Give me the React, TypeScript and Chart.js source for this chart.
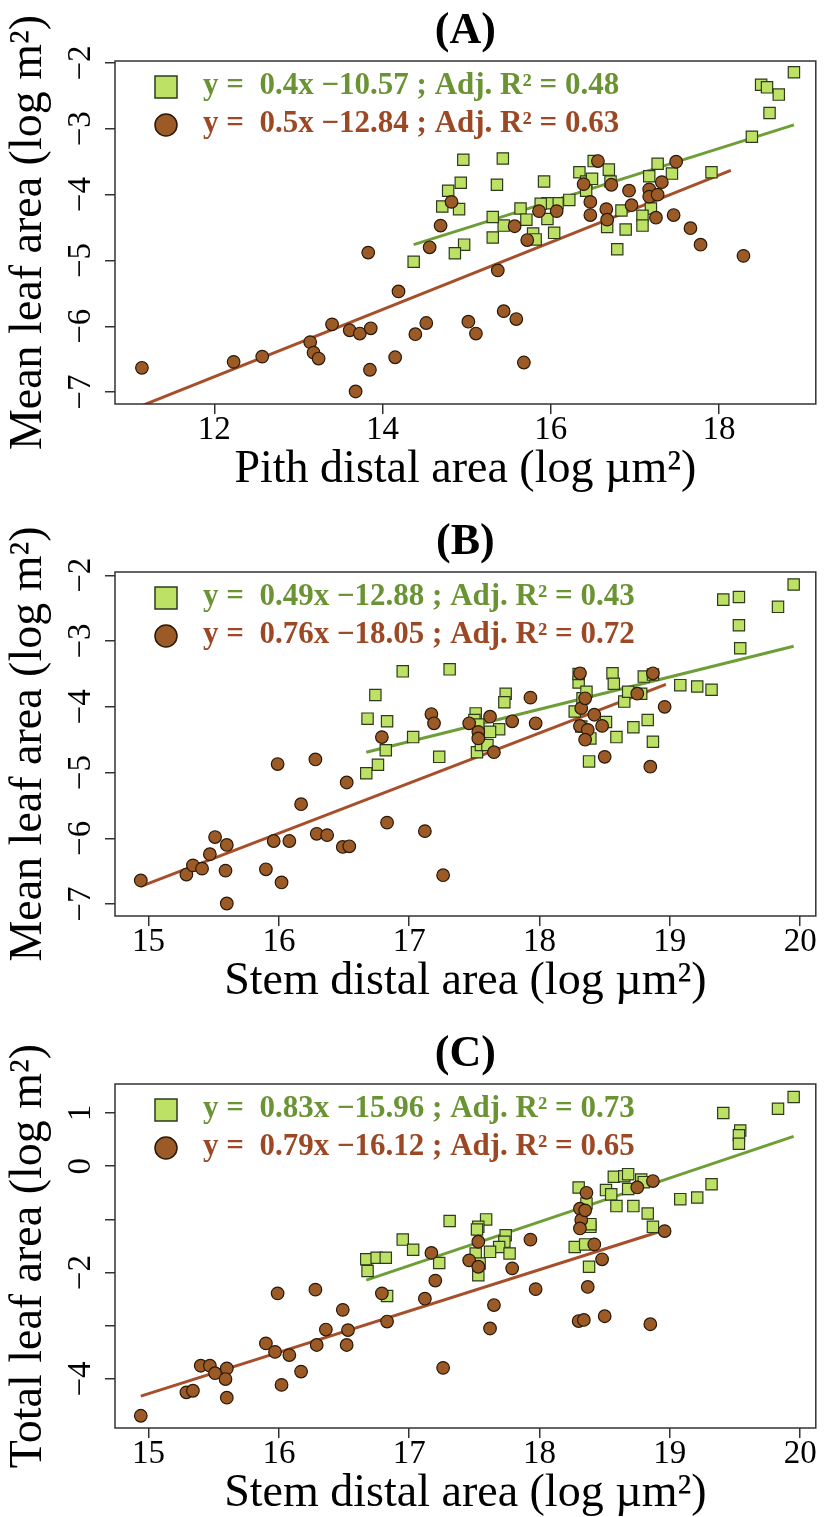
import React, { useEffect, useRef } from 'react';
import { Chart, registerables } from 'chart.js';
Chart.register(...registerables);

// ---------- Panel A: Pith distal area vs Mean leaf area ----------
const aSqX = [18.89, 18.5, 18.57, 18.71, 18.6, 18.39, 17.91, 17.44, 17.27, 17.17, 17.19, 17.09, 17.09, 16.89, 16.84, 16.79, 16.67, 16.69, 16.71, 16.51, 16.34, 16.42, 16.49, 16.42, 16.22, 16.08, 15.96, 15.88, 15.92, 15.96, 16.04, 15.64, 15.71, 15.79, 15.82, 15.44, 15.31, 15.31, 15.36, 15.43, 14.96, 14.93, 14.78, 14.71, 14.91, 14.97, 14.86, 14.37];
const aSqY = [-2.14, -2.33, -2.37, -2.48, -2.76, -3.12, -3.66, -3.68, -3.53, -3.72, -4.21, -4.32, -4.47, -4.53, -4.24, -4.83, -4.49, -3.62, -3.8, -3.49, -3.66, -3.8, -3.76, -3.94, -4.08, -4.13, -4.13, -4.14, -3.8, -4.37, -4.58, -4.21, -4.38, -4.59, -4.68, -4.47, -4.34, -4.65, -3.85, -3.45, -3.47, -3.82, -3.94, -4.18, -4.22, -4.76, -4.89, -5.02];
const aCiX = [11.14, 12.23, 12.57, 13.14, 13.18, 13.24, 13.4, 13.61, 13.73, 13.86, 13.68, 13.85, 13.83, 14.15, 14.19, 14.39, 14.52, 14.56, 14.69, 14.82, 15.02, 15.11, 15.37, 15.44, 15.59, 15.68, 15.57, 15.72, 15.86, 16.07, 16.39, 16.47, 16.47, 16.56, 16.66, 16.67, 16.72, 16.93, 16.96, 17.17, 17.17, 17.27, 17.32, 17.25, 17.49, 17.46, 17.66, 17.78, 18.29];
const aCiY = [-6.63, -6.54, -6.46, -6.24, -6.4, -6.49, -5.97, -6.06, -6.11, -6.03, -6.99, -6.66, -4.88, -6.47, -5.47, -6.12, -5.95, -4.8, -4.47, -4.11, -5.93, -6.11, -5.15, -5.77, -5.89, -6.55, -4.48, -4.69, -4.25, -4.25, -3.84, -4.11, -4.31, -3.49, -4.22, -4.38, -3.85, -3.94, -4.16, -3.92, -4.03, -4.0, -3.81, -4.35, -3.5, -4.31, -4.51, -4.76, -4.93];
const aSqLineX = [14.37, 18.89];
const aSqLineY = [-4.76, -2.94];
const aCiLineX = [11.13, 18.14];
const aCiLineY = [-7.21, -3.63];

// ---------- Panel B: Stem distal area vs Mean leaf area ----------
const bSqX = [19.95, 19.41, 19.53, 19.83, 19.53, 19.54, 19.08, 19.21, 19.32, 18.8, 18.87, 18.78, 18.83, 18.72, 18.87, 18.65, 18.68, 18.56, 18.57, 18.51, 18.59, 18.3, 18.3, 18.33, 18.36, 18.27, 18.39, 18.38, 18.32, 17.74, 17.73, 17.69, 17.62, 17.51, 17.5, 17.52, 17.55, 17.6, 17.31, 16.95, 17.23, 17.03, 16.83, 16.74, 16.68, 16.82, 16.76, 16.67, 17.53];
const bSqY = [-2.14, -2.37, -2.33, -2.48, -2.76, -3.11, -3.67, -3.69, -3.74, -3.54, -3.51, -3.8, -4.2, -4.31, -4.53, -3.92, -3.77, -3.49, -3.65, -4.23, -4.46, -3.63, -3.5, -3.87, -3.77, -4.07, -4.48, -4.83, -4.3, -3.8, -3.93, -4.34, -4.38, -4.1, -4.2, -4.69, -4.58, -4.58, -3.43, -3.46, -4.76, -4.46, -4.22, -3.82, -4.18, -4.66, -4.88, -5.01, -4.27];
const bCiX = [14.94, 15.29, 15.34, 15.41, 15.47, 15.51, 15.6, 15.59, 15.6, 15.9, 15.96, 15.99, 16.02, 16.08, 16.17, 16.28, 16.29, 16.37, 16.49, 16.54, 16.52, 16.79, 16.83, 17.12, 17.17, 17.19, 17.26, 17.46, 17.53, 17.53, 17.62, 17.65, 17.79, 17.93, 17.97, 18.31, 18.32, 18.35, 18.31, 18.37, 18.35, 18.42, 18.48, 18.5, 18.75, 18.87, 18.85, 18.96];
const bCiY = [-6.64, -6.55, -6.41, -6.46, -6.24, -5.98, -6.1, -6.49, -6.99, -6.47, -6.04, -4.87, -6.67, -6.04, -5.48, -4.8, -5.93, -5.95, -6.13, -6.12, -5.15, -4.46, -5.76, -5.89, -4.11, -4.25, -6.56, -4.25, -4.38, -4.48, -4.15, -4.69, -4.22, -3.86, -4.25, -3.49, -4.02, -3.87, -4.29, -4.35, -4.5, -4.12, -4.29, -4.76, -3.8, -3.49, -4.91, -4.0];
const bSqLineX = [16.67, 19.95];
const bSqLineY = [-4.69, -3.08];
const bCiLineX = [14.94, 18.97];
const bCiLineY = [-6.73, -3.66];

// ---------- Panel C: Stem distal area vs Total leaf area ----------
const cSqX = [19.95, 19.83, 19.41, 19.54, 19.53, 19.53, 19.32, 19.21, 19.08, 18.57, 18.65, 18.68, 18.78, 18.8, 18.68, 18.51, 18.55, 18.59, 18.72, 18.83, 18.87, 18.3, 18.36, 18.39, 18.39, 18.27, 18.35, 18.38, 17.59, 17.53, 17.52, 17.74, 17.73, 17.69, 17.62, 17.77, 17.51, 17.54, 17.53, 17.31, 17.23, 16.95, 17.03, 16.67, 16.68, 16.75, 16.82, 16.83];
const cSqY = [1.3, 1.08, 1.0, 0.67, 0.58, 0.42, -0.34, -0.59, -0.62, -0.2, -0.19, -0.15, -0.25, -0.3, -0.43, -0.45, -0.53, -0.75, -0.75, -0.89, -1.14, -0.4, -0.7, -1.14, -1.09, -1.52, -1.47, -1.89, -1.0, -1.14, -1.19, -1.3, -1.42, -1.52, -1.61, -1.64, -1.64, -1.83, -2.05, -1.03, -1.82, -1.38, -1.57, -1.75, -1.97, -1.72, -1.72, -2.44];
const cCiX = [14.94, 15.29, 15.34, 15.4, 15.47, 15.51, 15.6, 15.59, 15.6, 15.9, 15.97, 15.99, 16.02, 16.08, 16.17, 16.28, 16.29, 16.36, 16.49, 16.53, 16.52, 16.79, 16.83, 17.12, 17.17, 17.2, 17.26, 17.46, 17.53, 17.53, 17.62, 17.65, 17.79, 17.93, 17.97, 18.31, 18.32, 18.36, 18.35, 18.31, 18.37, 18.3, 18.34, 18.42, 18.48, 18.5, 18.75, 18.87, 18.85, 18.96];
const cCiY = [-4.69, -4.25, -4.22, -3.75, -3.75, -3.89, -3.8, -4.0, -4.35, -3.33, -3.49, -2.39, -4.11, -3.55, -3.86, -2.32, -3.36, -3.07, -2.7, -3.08, -3.36, -2.39, -2.92, -2.49, -1.63, -2.15, -3.79, -1.77, -1.89, -1.42, -3.05, -2.61, -1.92, -1.38, -2.31, -0.8, -1.01, -0.5, -0.83, -1.17, -2.27, -2.91, -2.89, -1.47, -1.75, -2.82, -0.4, -0.28, -2.97, -1.22];
const cSqLineX = [16.67, 19.95];
const cSqLineY = [-2.14, 0.56];
const cCiLineX = [14.94, 18.96];
const cCiLineY = [-4.32, -1.2];

// ---------- Labels ----------
const panelTitles = ['(A)', '(B)', '(C)'];
const xTitles = ['Pith distal area (log \u00b5m\u00b2)', 'Stem distal area (log \u00b5m\u00b2)', 'Stem distal area (log \u00b5m\u00b2)'];
const yTitles = ['Mean leaf area (log m\u00b2)', 'Mean leaf area (log m\u00b2)', 'Total leaf area (log m\u00b2)'];
const greenLegend = ['y =  0.4x \u221210.57 ; Adj. R\u00b2 = 0.48', 'y =  0.49x \u221212.88 ; Adj. R\u00b2 = 0.43', 'y =  0.83x \u221215.96 ; Adj. R\u00b2 = 0.73'];
const brownLegend = ['y =  0.5x \u221212.84 ; Adj. R\u00b2 = 0.63', 'y =  0.76x \u221218.05 ; Adj. R\u00b2 = 0.72', 'y =  0.79x \u221216.12 ; Adj. R\u00b2 = 0.65'];
const xRanges = [[10.82, 19.15], [14.742, 20.12], [14.742, 20.12]];
const xSteps = [2, 1, 1];
const yRanges = [[-7.18, -1.97], [-7.18, -1.95], [-4.92, 1.544]];
const yHiddenTicks = [[], [], [-1, -3]];

const SERIF = '"Liberation Serif", "Times New Roman", serif';
const SQ_FILL = '#bde165';
const SQ_EDGE = '#2c3b1b';
const CI_FILL = '#9c5b26';
const CI_EDGE = '#2a1808';
const GREEN_LINE = '#6e9e36';
const BROWN_LINE = '#a64f2a';
const GREEN_TEXT = '#6a9333';
const BROWN_TEXT = '#9d4824';

const zip = (xs: number[], ys: number[]) => xs.map((x, i) => ({ x, y: ys[i] }));
const fmt = (v: number) => (v < 0 ? '\u2212' + Math.abs(v) : String(v));

const boxLegendPlugin = {
  id: 'boxLegend',
  afterDraw(chart: any, _args: any, opts: any) {
    const { ctx, chartArea: a } = chart;
    ctx.save();
    ctx.strokeStyle = '#333';
    ctx.lineWidth = 1.5;
    ctx.strokeRect(a.left, a.top, a.right - a.left, a.bottom - a.top);
    const rows = opts.rows || [];
    rows.forEach((r: any, i: number) => {
      const cx = a.left + 51;
      const cy = a.top + 26 + i * 38;
      ctx.fillStyle = r.fill;
      ctx.strokeStyle = r.edge;
      ctx.lineWidth = 1.5;
      if (r.shape === 'rect') {
        ctx.fillRect(cx - 11, cy - 11, 22, 22);
        ctx.strokeRect(cx - 11, cy - 11, 22, 22);
      } else {
        ctx.beginPath();
        ctx.arc(cx, cy, 11, 0, Math.PI * 2);
        ctx.fill();
        ctx.stroke();
      }
      ctx.font = 'bold 31px ' + SERIF;
      ctx.fillStyle = r.color;
      ctx.textAlign = 'left';
      ctx.textBaseline = 'middle';
      ctx.fillText(r.text, a.left + 88, cy - 1);
    });
    ctx.restore();
  },
};

type PanelProps = { idx: number; top: number; height: number; boxTop: number; boxBottom: number };

function Panel({ idx, top, height, boxTop, boxBottom }: PanelProps) {
  const ref = useRef<HTMLCanvasElement | null>(null);
  useEffect(() => {
    if (!ref.current) return;
    const sets = [
      [zip(aSqX, aSqY), zip(aCiX, aCiY), zip(aSqLineX, aSqLineY), zip(aCiLineX, aCiLineY)],
      [zip(bSqX, bSqY), zip(bCiX, bCiY), zip(bSqLineX, bSqLineY), zip(bCiLineX, bCiLineY)],
      [zip(cSqX, cSqY), zip(cCiX, cCiY), zip(cSqLineX, cSqLineY), zip(cCiLineX, cCiLineY)],
    ][idx];
    const titleTop = boxTop - 29 - 22;
    const titleBottom = boxTop - titleTop - 44;
    const xH = height - boxBottom;
    const xTitlePad = height - (boxBottom + 66) - 23;
    const hidden = yHiddenTicks[idx];
    const chart = new Chart(ref.current, {
      type: 'scatter',
      data: {
        datasets: [
          { label: 'circles', data: sets[1], pointStyle: 'circle', pointRadius: 6.3, backgroundColor: CI_FILL, borderColor: CI_EDGE, borderWidth: 1.2, order: 1 },
          { label: 'squares', data: sets[0], pointStyle: 'rect', pointRadius: 8, backgroundColor: SQ_FILL, borderColor: SQ_EDGE, borderWidth: 1.2, order: 2 },
          { label: 'brownLine', data: sets[3], showLine: true, pointRadius: 0, borderColor: BROWN_LINE, borderWidth: 3, order: 3 },
          { label: 'greenLine', data: sets[2], showLine: true, pointRadius: 0, borderColor: GREEN_LINE, borderWidth: 3, order: 4 },
        ] as any,
      },
      options: {
        responsive: false,
        animation: false,
        devicePixelRatio: 1,
        events: [],
        layout: { padding: { left: 0, right: 2, top: 0, bottom: 0 } },
        plugins: {
          legend: { display: false },
          tooltip: { enabled: false },
          title: {
            display: true,
            fullSize: false,
            text: panelTitles[idx],
            color: '#000',
            font: { family: SERIF, size: 44, weight: 'bold', lineHeight: 1 },
            padding: { top: titleTop, bottom: titleBottom },
          },
          boxLegend: {
            rows: [
              { shape: 'rect', fill: SQ_FILL, edge: SQ_EDGE, color: GREEN_TEXT, text: greenLegend[idx] },
              { shape: 'circle', fill: CI_FILL, edge: CI_EDGE, color: BROWN_TEXT, text: brownLegend[idx] },
            ],
          },
        } as any,
        scales: {
          x: {
            type: 'linear',
            position: 'bottom',
            min: xRanges[idx][0],
            max: xRanges[idx][1],
            afterFit: (s: any) => { s.height = xH; },
            border: { display: false },
            grid: { display: true, drawOnChartArea: false, drawTicks: true, tickLength: 10, color: '#333', lineWidth: 1.5 },
            ticks: {
              stepSize: xSteps[idx], includeBounds: false, autoSkip: false, maxRotation: 0, padding: 0,
              color: '#000', font: { family: SERIF, size: 33, lineHeight: 1 },
              callback: (v: any) => fmt(Number(v)),
            },
            title: { display: true, text: xTitles[idx], color: '#000', font: { family: SERIF, size: 46, lineHeight: 1 }, padding: { top: 0, bottom: xTitlePad } },
          },
          y: {
            type: 'linear',
            position: 'left',
            min: yRanges[idx][0],
            max: yRanges[idx][1],
            afterFit: (s: any) => { s.width = 115; },
            border: { display: false },
            grid: { display: true, drawOnChartArea: false, drawTicks: true, tickLength: 10, color: '#333', lineWidth: 1.5 },
            ticks: {
              stepSize: 1, includeBounds: false, autoSkip: false, minRotation: 90, maxRotation: 90, crossAlign: 'center', padding: 6,
              color: '#000', font: { family: SERIF, size: 33, lineHeight: 1 },
              callback: (v: any) => (hidden.includes(Number(v)) ? '' : fmt(Number(v))),
            },
            title: { display: true, text: yTitles[idx], color: '#000', font: { family: SERIF, size: 46, lineHeight: 1 }, padding: { top: 6, bottom: 0 } },
          },
        } as any,
      },
      plugins: [boxLegendPlugin as any],
    });
    return () => chart.destroy();
  }, [idx, top, height, boxTop, boxBottom]);
  return <canvas ref={ref} width={825} height={height} style={{ position: 'absolute', left: 0, top, width: 825, height }} />;
}

export default function App() {
  return (
    <div style={{ position: 'absolute', left: 0, top: 0, width: 825, height: 1517, background: '#fff', overflow: 'hidden' }}>
      <Panel idx={0} top={0} height={500} boxTop={61} boxBottom={404} />
      <Panel idx={1} top={500} height={510} boxTop={72} boxBottom={416} />
      <Panel idx={2} top={1010} height={507} boxTop={74} boxBottom={418} />
    </div>
  );
}
